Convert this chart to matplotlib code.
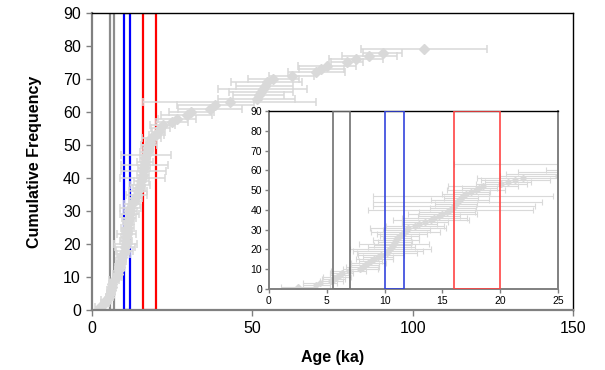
import matplotlib
matplotlib.use("Agg")
import matplotlib.pyplot as plt
from matplotlib.patches import Rectangle
import numpy as np

plt.rcParams['font.family'] = ['Liberation Sans', 'DejaVu Sans']

# Ages (ka), sorted; cumulative frequency = rank
ages = [2.5, 4.1, 4.4, 5.4, 5.6, 5.9, 6.1, 6.3, 6.9, 7.9,
        8.1, 8.3, 8.6, 8.8, 9.1, 9.4, 9.7, 10.2, 10.3, 10.5,
        10.6, 10.7, 10.8, 10.9, 11.0, 11.1, 11.3, 11.5, 11.8, 11.9,
        12.0, 12.6, 13.0, 13.5, 14.0, 14.3, 14.7, 15.0, 15.4, 15.7,
        15.9, 16.0, 16.2, 16.3, 16.5, 16.6, 16.8, 17.0, 17.5, 17.9,
        18.2, 18.5, 20.1, 20.7, 21.3, 22.0, 25.0, 26.5, 29.5, 31.0,
        36.8, 38.4, 43.0, 51.4, 52.0, 52.6, 53.2, 53.8, 54.5, 56.5,
        62.3, 70.0, 71.5, 73.2, 79.4, 82.3, 86.5, 90.6, 103.5]
errors = [1.5, 1.2, 1.5, 1.0, 1.0, 1.2, 0.8, 1.0, 1.5, 1.5,
          1.4, 1.2, 1.5, 1.0, 1.6, 1.3, 2.0, 2.6, 3.0, 3.5,
          2.0, 1.6, 3.0, 1.5, 2.0, 1.2, 1.7, 2.2, 3.0, 2.0,
          3.3, 2.5, 1.5, 2.0, 3.3, 2.8, 1.8, 3.0, 2.4, 7.1,
          2.0, 7.0, 1.8, 7.3, 2.5, 1.5, 7.8, 2.0, 1.6, 2.5,
          1.5, 3.0, 2.2, 2.0, 3.0, 4.0, 5.0, 6.0, 8.0, 7.0,
          10.0, 12.0, 27.0, 12.0, 8.0, 10.0, 14.0, 9.0, 11.0, 8.0,
          7.0, 9.0, 7.0, 9.0, 5.0, 8.5, 8.5, 6.0, 19.7]
freq = list(range(1, len(ages) + 1))

# Age ranges marked by vertical line pairs (ka)
gray_pair = [5.5, 7.0]
blue_pair = [10.0, 11.7]
red_pair = [16.0, 20.0]

main_xticks = [0, 50, 100, 150]
main_yticks = [0, 10, 20, 30, 40, 50, 60, 70, 80, 90]
inset_xticks = [0, 5, 10, 15, 20, 25]

data_color = '#d9d9d9'

fig = plt.figure(figsize=(6.05, 3.70), dpi=100)
ax = fig.add_axes([92/605, 1-310/370, (573-92)/605, (310-13)/370])


def style_axes(a, axis_lw):
    for s in ['left', 'bottom']:
        a.spines[s].set_color('#808080')
        a.spines[s].set_linewidth(axis_lw)
    for s in ['top', 'right']:
        a.spines[s].set_color('#000000')
        a.spines[s].set_linewidth(1.0)
    a.tick_params(direction='out', color='#808080', width=1.0)


# Main chart
for pair, col in [(gray_pair, '#8c8c8c'), (blue_pair, '#0000ff'), (red_pair, '#ff0000')]:
    ax.add_patch(Rectangle((pair[0], 0), pair[1]-pair[0], 90, fill=False,
                           edgecolor=col, linewidth=1.6, zorder=1))
ax.errorbar(ages, freq, xerr=errors, fmt='D', color=data_color, ms=5.5,
            ecolor=data_color, elinewidth=1.1, capsize=3, capthick=1.1, zorder=2)
ax.set_xlim(0, 150)
ax.set_ylim(0, 90)
ax.set_xticks(main_xticks)
ax.set_yticks(main_yticks)
ax.tick_params(labelsize=11.5, length=4, pad=4)
style_axes(ax, 1.6)
ax.spines['right'].set_color('#000000')
ax.set_xlabel('Age (ka)', fontsize=11.5, fontweight='bold', labelpad=10)
ax.set_ylabel('Cumulative Frequency', fontsize=11.5, fontweight='bold', labelpad=15)

# Inset
ins = fig.add_axes([269/605, 1-289/370, (558-269)/605, (289-111)/370])
ins.set_facecolor('white')
ins.errorbar(ages, freq, xerr=errors, fmt='D', color=data_color, ms=3,
             ecolor=data_color, elinewidth=0.8, capsize=2, capthick=0.8, zorder=2)
for pair, col in [(gray_pair, '#707070'), (blue_pair, '#3344dd'), (red_pair, '#ff4444')]:
    ins.add_patch(Rectangle((pair[0], 0), pair[1]-pair[0], 90, fill=False,
                            edgecolor=col, linewidth=1.2, zorder=3))
ins.set_xlim(0, 25)
ins.set_ylim(0, 90)
ins.set_xticks(inset_xticks)
ins.set_yticks(main_yticks)
ins.tick_params(labelsize=7.5, length=3, pad=2)
style_axes(ins, 1.4)
ins.spines['right'].set_color('#808080')
ins.spines['right'].set_linewidth(1.4)

fig.savefig('out.png', dpi=100)
